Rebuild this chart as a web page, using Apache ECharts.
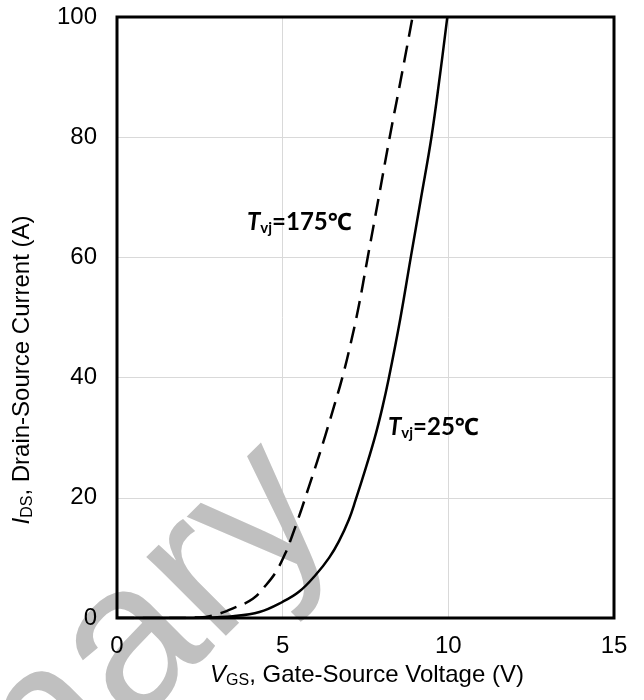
<!DOCTYPE html>
<html>
<head>
<meta charset="utf-8">
<script src="https://cdn.jsdelivr.net/npm/echarts@6/dist/echarts.min.js"></script>
<style>
  html, body { margin: 0; padding: 0; background: #fff; }
  #chart { width: 644px; height: 700px; }
</style>
</head>
<body>
<div id="chart"></div>
<script>
// Transfer characteristic: drain-source current vs gate-source voltage
const vgs25  = [0, 1.5, 2.5, 3.5, 4.3, 5.0, 5.5, 6.0, 6.4, 6.7, 7.0, 7.2, 7.5, 7.78, 8.0, 8.2, 8.55, 8.86, 9.18, 9.49, 9.74, 9.97];
const ids25  = [0, 0.0, 0.05, 0.3, 1.0, 2.7, 4.4, 7.2, 10.0, 12.8, 16.4, 19.6, 24.8, 30.0, 34.8, 39.8, 49.8, 59.8, 70.0, 80.0, 90.0, 100.0];
const vgs175 = [0, 1.5, 2.5, 3.0, 3.5, 4.1, 4.5, 4.8, 5.1, 5.3, 5.55, 5.8, 6.05, 6.3, 6.55, 6.8, 7.05, 7.3, 7.55, 7.9, 8.23, 8.58, 8.92];
const ids175 = [0, 0.0, 0.1, 0.6, 1.6, 3.2, 5.5, 7.7, 11.0, 13.9, 17.8, 22.0, 26.2, 30.6, 35.2, 40.0, 45.6, 52.0, 59.5, 70.0, 80.0, 90.0, 100.0];

const xTicks = [0, 5, 10, 15];
const yTicks = [0, 20, 40, 60, 80, 100];

const labelFont = '"Liberation Sans", Arial, sans-serif';
const noteFont = 'Lato, "Noto Sans", sans-serif';

function pairs(xs, ys) { return xs.map((x, i) => [x, ys[i]]); }

const chart = echarts.init(document.getElementById('chart'), null, { renderer: 'canvas' });

const gridBox = { left: 117, right: 30, top: 17, bottom: 82 };

const titleRich = {
  i: { fontFamily: labelFont, fontSize: 24, fontStyle: 'italic', color: '#000', lineHeight: 28, verticalAlign: 'middle' },
  s: { fontFamily: labelFont, fontSize: 16, color: '#000', lineHeight: 15, verticalAlign: 'bottom' },
  n: { fontFamily: labelFont, fontSize: 24, color: '#000', lineHeight: 28, verticalAlign: 'middle' }
};
const noteRich = {
  i: { fontFamily: noteFont, fontSize: 24, fontWeight: 'bold', fontStyle: 'italic', color: '#000', lineHeight: 28, verticalAlign: 'middle' },
  s: { fontFamily: noteFont, fontSize: 15, fontWeight: 'bold', color: '#000', lineHeight: 14, verticalAlign: 'bottom' },
  n: { fontFamily: noteFont, fontSize: 24, fontWeight: 'bold', color: '#000', lineHeight: 28, verticalAlign: 'middle' }
};

const baseAxis = {
  min: 0,
  axisLine: { show: false },
  axisTick: { show: false },
  axisLabel: { show: false },
  splitLine: { show: true, showMinLine: false, showMaxLine: false, lineStyle: { color: '#d9d9d9', width: 1 } }
};
const labelAxis = {
  min: 0,
  z: 6,
  axisLine: { show: false },
  axisTick: { show: false },
  splitLine: { show: false },
  axisLabel: { color: '#000', fontFamily: labelFont, fontSize: 24 }
};

chart.setOption({
  animation: false,
  backgroundColor: '#fff',
  grid: Object.assign({ show: true, borderColor: '#000', borderWidth: 3, backgroundColor: 'transparent', z: 3 }, gridBox),
  xAxis: [
    Object.assign({}, baseAxis, { type: 'value', max: xTicks[xTicks.length - 1], interval: 5, position: 'bottom' }),
    Object.assign({}, labelAxis, { type: 'value', max: xTicks[xTicks.length - 1], interval: 5, position: 'bottom',
      axisLabel: Object.assign({}, labelAxis.axisLabel, { margin: 16 }) })
  ],
  yAxis: [
    Object.assign({}, baseAxis, { type: 'value', max: yTicks[yTicks.length - 1], interval: 20, position: 'left' }),
    Object.assign({}, labelAxis, { type: 'value', max: yTicks[yTicks.length - 1], interval: 20, position: 'left',
      axisLabel: Object.assign({}, labelAxis.axisLabel, { margin: 20 }) })
  ],
  graphic: [
    {
      type: 'text', z: 1, silent: true,
      x: 374, y: 555, rotation: 45 * Math.PI / 180,
      style: { text: 'Preliminary', font: '212px "Liberation Sans", Arial, sans-serif', fill: '#c0c0c0', align: 'right', verticalAlign: 'bottom' }
    },
    {
      type: 'text', z: 10,
      x: 367, y: 675,
      style: { text: '{i|V}{s|GS}{n|, Gate-Source Voltage (V)}', rich: titleRich, align: 'center', verticalAlign: 'middle' }
    },
    {
      type: 'text', z: 10,
      x: 22, y: 370, rotation: Math.PI / 2,
      style: { text: '{i|I}{s|DS}{n|, Drain-Source Current (A)}', rich: titleRich, align: 'center', verticalAlign: 'middle' }
    },
    {
      type: 'text', z: 10,
      x: 247, y: 222,
      style: { text: '{i|T}{s|vj}{n|=175℃}', rich: noteRich, align: 'left', verticalAlign: 'middle' }
    },
    {
      type: 'text', z: 10,
      x: 388, y: 427,
      style: { text: '{i|T}{s|vj}{n|=25℃}', rich: noteRich, align: 'left', verticalAlign: 'middle' }
    }
  ],
  series: [
    {
      name: 'Tvj=25℃', type: 'line', xAxisIndex: 0, yAxisIndex: 0, z: 5,
      data: pairs(vgs25, ids25), showSymbol: false, smooth: 0.4,
      lineStyle: { color: '#000', width: 2.5, type: 'solid' }
    },
    {
      name: 'Tvj=175℃', type: 'line', xAxisIndex: 0, yAxisIndex: 0, z: 5,
      data: pairs(vgs175, ids175), showSymbol: false, smooth: 0.4,
      lineStyle: { color: '#000', width: 2.5, type: [17, 9] }
    }
  ]
});
</script>
</body>
</html>
